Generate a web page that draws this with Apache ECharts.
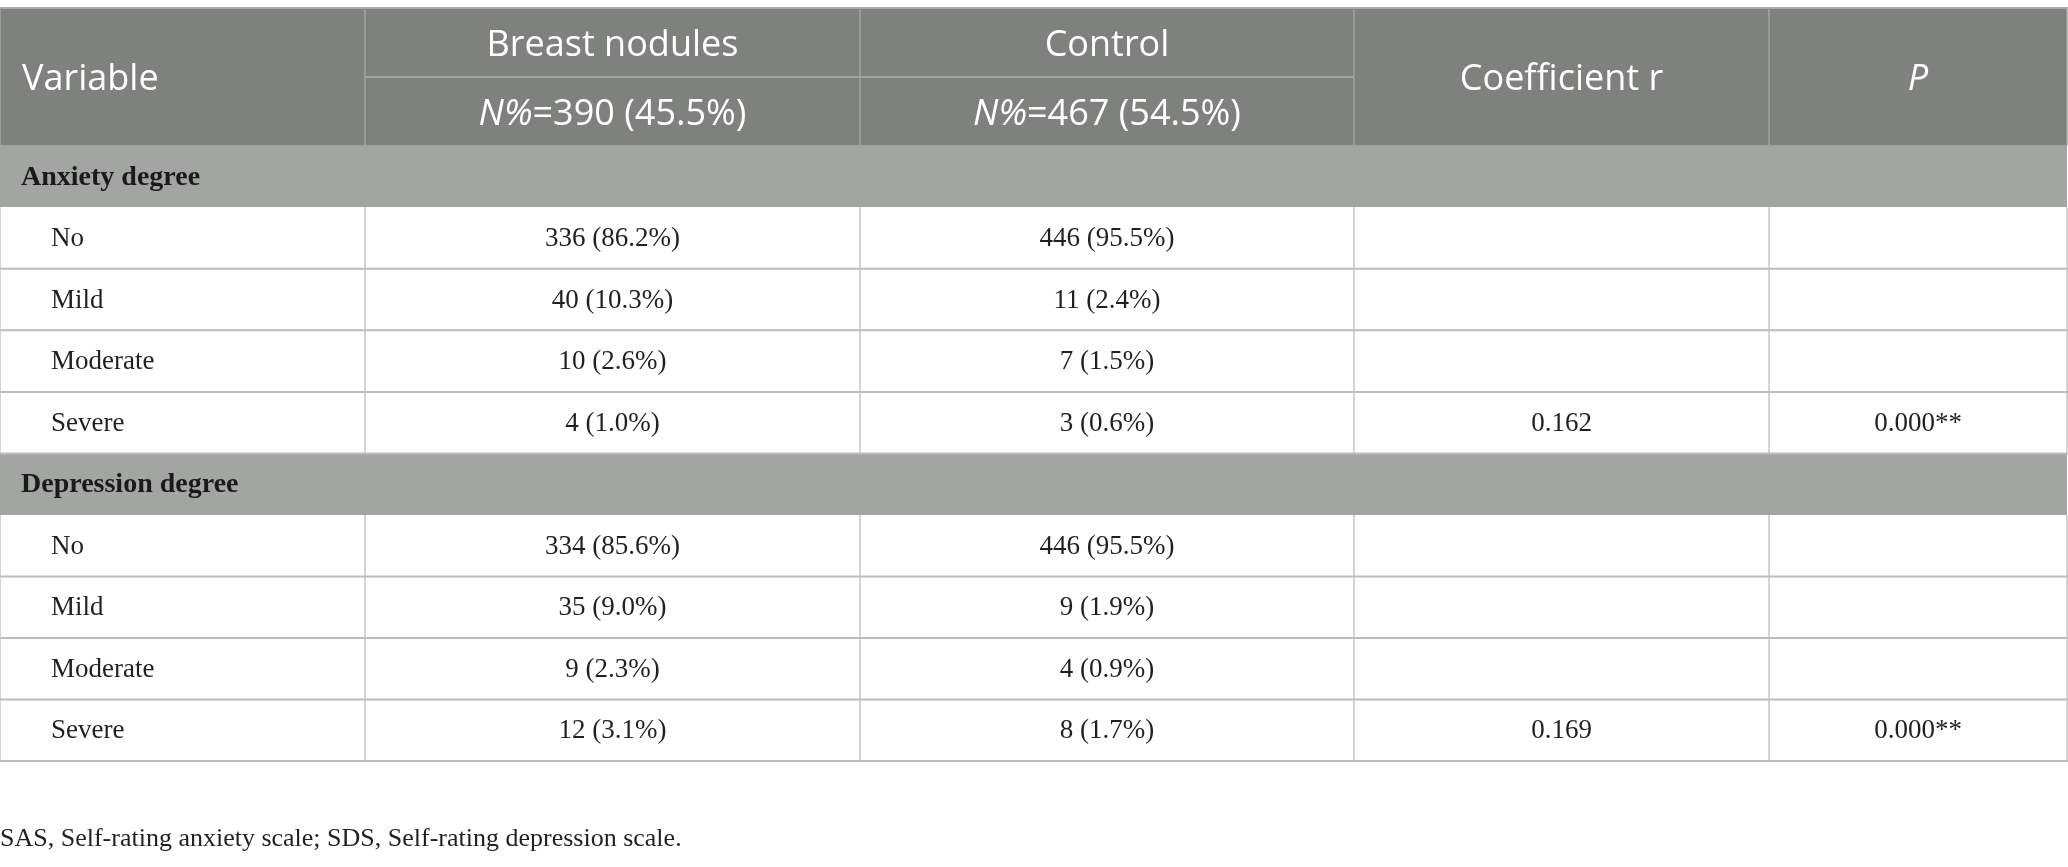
<!DOCTYPE html>
<html><head><meta charset="utf-8">
<script src="https://cdn.jsdelivr.net/npm/echarts@6/dist/echarts.min.js"></script>
<style>html,body{margin:0;padding:0;background:#fff}#c{width:2068px;height:867px}</style>
</head><body><div id="c"></div>
<script>
// ---------------- data ----------------
const variableHeader = 'Variable';
const groupNames = ['Breast nodules', 'Control'];
const groupSizes = [390, 467];
const groupShares = [45.5, 54.5];
const coefHeader = 'Coefficient r';
const pHeader = 'P';
const sections = ['Anxiety degree', 'Depression degree'];
const levels = ['No', 'Mild', 'Moderate', 'Severe'];
const anxietyBreastN = [336, 40, 10, 4];
const anxietyBreastPct = [86.2, 10.3, 2.6, 1.0];
const anxietyControlN = [446, 11, 7, 3];
const anxietyControlPct = [95.5, 2.4, 1.5, 0.6];
const depressionBreastN = [334, 35, 9, 12];
const depressionBreastPct = [85.6, 9.0, 2.3, 3.1];
const depressionControlN = [446, 9, 4, 8];
const depressionControlPct = [95.5, 1.9, 0.9, 1.7];
const coefficients = [0.162, 0.169];
const pValues = ['0.000**', '0.000**'];
const footnote = 'SAS, Self-rating anxiety scale; SDS, Self-rating depression scale.';

// ---------------- layout ----------------
const colWidths = [365, 495, 494, 415, 298];
const headerUnit = 1.12;
const xEdges = [0];
colWidths.forEach(w => xEdges.push(xEdges[xEdges.length - 1] + w));
const X_MAX = 2068;

const sectionData = [
  { name: sections[0], bN: anxietyBreastN, bP: anxietyBreastPct, cN: anxietyControlN, cP: anxietyControlPct, r: coefficients[0], p: pValues[0] },
  { name: sections[1], bN: depressionBreastN, bP: depressionBreastPct, cN: depressionControlN, cP: depressionControlPct, r: coefficients[1], p: pValues[1] }
];

const fills = { header: '#7f817f', section: '#a3a5a3', body: '#ffffff' };
const SANS = '"Open Sans", "Noto Sans", sans-serif';
const SERIF = '"Liberation Serif", "DejaVu Serif", serif';
const HEADER_SIZE = 36;
const textStyles = {
  header: { fontFamily: SANS, fontSize: HEADER_SIZE, fill: '#ffffff', fontWeight: 'normal', dy: 3 },
  headerItalic: { fontFamily: SANS, fontSize: HEADER_SIZE, fill: '#ffffff', fontStyle: 'italic', dy: 3 },
  section: { fontFamily: SERIF, fontSize: 28, fill: '#1a1a1a', fontWeight: 'bold', dy: 1 },
  body: { fontFamily: SERIF, fontSize: 27, fill: '#231f20', fontWeight: 'normal', dy: 1 }
};

const fmt = (n, p) => n + ' (' + p.toFixed(1) + '%)';

// build cells
const cellSpecs = [];
const cellData = [];
function addCell(c0, c1, y0, y1, kind, text, align, indent, tkind) {
  cellData.push([xEdges[c0], xEdges[c1], y0, y1]);
  cellSpecs.push({ kind, text, align, indent, tkind });
}
// header
addCell(0, 1, 0, 2 * headerUnit, 'header', variableHeader, 'left', 22, 'header');
groupNames.forEach((g, i) => {
  addCell(1 + i, 2 + i, 0, headerUnit, 'header', g, 'center', 0, 'header');
  addCell(1 + i, 2 + i, headerUnit, 2 * headerUnit, 'header', '{i|N%}=' + groupSizes[i] + ' (' + groupShares[i].toFixed(1) + '%)', 'center', 0, 'header');
});
addCell(3, 4, 0, 2 * headerUnit, 'header', coefHeader, 'center', 0, 'header');
addCell(4, 5, 0, 2 * headerUnit, 'header', pHeader, 'center', 0, 'headerItalic');

// body
const lineData = [];
const lineSpecs = [];
function addLine(x0, y0, x1, y1, kind) { lineData.push([x0, y0, x1, y1]); lineSpecs.push(kind); }

let y = 2 * headerUnit;
sectionData.forEach(sec => {
  addCell(0, 5, y, y + 1, 'section', sec.name, 'left', 21, 'section');
  y += 1;
  levels.forEach((lv, k) => {
    addCell(0, 1, y, y + 1, 'body', lv, 'left', 51, 'body');
    addCell(1, 2, y, y + 1, 'body', fmt(sec.bN[k], sec.bP[k]), 'center', 0, 'body');
    addCell(2, 3, y, y + 1, 'body', fmt(sec.cN[k], sec.cP[k]), 'center', 0, 'body');
    const last = k === levels.length - 1;
    addCell(3, 4, y, y + 1, 'body', last ? sec.r.toFixed(3) : '', 'center', 0, 'body');
    addCell(4, 5, y, y + 1, 'body', last ? sec.p : '', 'center', 0, 'body');
    xEdges.forEach(xe => addLine(Math.min(xe, X_MAX - 1), y, Math.min(xe, X_MAX - 1), y + 1, 'bodyV'));
    addLine(0, y + 1, X_MAX, y + 1, 'bodyH');
    y += 1;
  });
});
const Y_MAX = y;

// header lines
addLine(0, 0, X_MAX, 0, 'top');
xEdges.forEach(xe => addLine(Math.min(xe, X_MAX - 1), 0, Math.min(xe, X_MAX - 1), 2 * headerUnit, 'headerV'));
addLine(xEdges[1], headerUnit, xEdges[3], headerUnit, 'headerH');

const lineStyles = {
  top: { stroke: '#a9aaa9', lineWidth: 2 },
  headerV: { stroke: '#a2a4a2', lineWidth: 1.5 },
  headerH: { stroke: '#a2a4a2', lineWidth: 2 },
  bodyV: { stroke: '#c6c6c6', lineWidth: 1.5 },
  bodyH: { stroke: '#bcbcbc', lineWidth: 2 }
};

function rectOf(api, a, b, c, d) {
  const p0 = api.coord([a, c]);
  const p1 = api.coord([b, d]);
  return {
    x: Math.min(p0[0], p1[0]), y: Math.min(p0[1], p1[1]),
    width: Math.abs(p1[0] - p0[0]), height: Math.abs(p1[1] - p0[1])
  };
}

function renderCell(params, api) {
  const spec = cellSpecs[params.dataIndex];
  const r = rectOf(api, api.value(0), api.value(1), api.value(2), api.value(3));
  const children = [{ type: 'rect', shape: r, style: { fill: fills[spec.kind] } }];
  if (spec.text) {
    const ts = Object.assign({}, textStyles[spec.tkind]);
    const dy = ts.dy || 0; delete ts.dy;
    const tx = spec.align === 'left' ? r.x + spec.indent : r.x + r.width / 2;
    children.push({
      type: 'text', z2: 10,
      style: Object.assign(ts, {
        text: spec.text, x: tx, y: r.y + r.height / 2 + dy,
        align: spec.align, verticalAlign: 'middle',
        rich: { i: { fontFamily: SANS, fontSize: HEADER_SIZE, fill: '#ffffff', fontStyle: 'italic' } }
      })
    });
  }
  return { type: 'group', children };
}

function renderLine(params, api) {
  const kind = lineSpecs[params.dataIndex];
  const p0 = api.coord([api.value(0), api.value(1)]);
  const p1 = api.coord([api.value(2), api.value(3)]);
  return { type: 'line', shape: { x1: p0[0], y1: p0[1], x2: p1[0], y2: p1[1] }, style: lineStyles[kind] };
}

const chart = echarts.init(document.getElementById('c'), null, { renderer: 'canvas' });
chart.setOption({
  animation: false,
  backgroundColor: '#ffffff',
  title: {
    text: footnote, left: 0, top: 826, padding: 0,
    textStyle: { fontFamily: SERIF, fontSize: 26, fontWeight: 'normal', color: '#231f20' }
  },
  grid: { left: 0, right: 0, top: 8, height: 753 },
  xAxis: { type: 'value', min: 0, max: X_MAX, show: false },
  yAxis: { type: 'value', min: 0, max: Y_MAX, inverse: true, show: false },
  series: [
    { type: 'custom', name: 'cells', renderItem: renderCell, data: cellData, encode: { x: [0, 1], y: [2, 3] }, clip: false, z: 1, silent: true },
    { type: 'custom', name: 'lines', renderItem: renderLine, data: lineData, encode: { x: [0, 2], y: [1, 3] }, clip: false, z: 2, silent: true }
  ]
});
</script>
</body></html>
